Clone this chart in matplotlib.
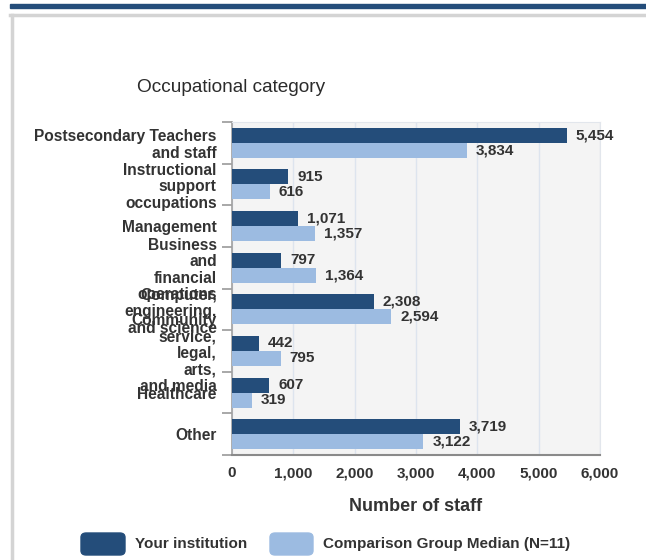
#!/usr/bin/env python3
"""
Staff by occupational category: institution vs comparison group median.
"""

import matplotlib
matplotlib.use("Agg")
import matplotlib.pyplot as plt
from matplotlib.patches import Rectangle, FancyBboxPatch
from matplotlib.lines import Line2D

plt.rcParams['font.family'] = ['Liberation Sans', 'DejaVu Sans']

CATEGORIES = [
    "Postsecondary Teachers\nand staff",
    "Instructional\nsupport\noccupations",
    "Management",
    "Business\nand\nfinancial\noperations",
    "Computer,\nengineering,\nand science",
    "Community\nservice,\nlegal,\narts,\nand media",
    "Healthcare",
    "Other",
]
YOUR_INSTITUTION = [5454, 915, 1071, 797, 2308, 442, 607, 3719]
COMPARISON_MEDIAN = [3834, 616, 1357, 1364, 2594, 795, 319, 3122]
X_TICKS = [0, 1000, 2000, 3000, 4000, 5000, 6000]

W, H = 646, 560
TEXT = '#333333'
DARK = '#244d7a'
LIGHT = '#9cbbe1'

fig = plt.figure(figsize=(W / 100, H / 100), dpi=100, facecolor='white')

# page decoration: dark band on top and light grey frame
fig.patches.append(Rectangle((10 / W, 1 - 8 / H), 1, 4 / H, transform=fig.transFigure,
                             color=DARK, zorder=0))
fig.lines.append(Line2D([11.5 / W, 11.5 / W], [0, 1 - 15 / H], transform=fig.transFigure,
                        color='#d4d4d4', linewidth=2.5))
fig.lines.append(Line2D([10 / W, 1], [1 - 15 / H, 1 - 15 / H], transform=fig.transFigure,
                        color='#d4d4d4', linewidth=2.5))

ax = fig.add_axes([232 / W, 1 - 455 / H, (600 - 232) / W, (455 - 122) / H])
ax.set_facecolor('#f4f4f4')

y = list(range(len(CATEGORIES)))
bh = 0.36
bars1 = ax.barh([v - bh / 2 for v in y], YOUR_INSTITUTION, height=bh, color=DARK,
                zorder=3, label="Your institution")
bars2 = ax.barh([v + bh / 2 for v in y], COMPARISON_MEDIAN, height=bh, color=LIGHT,
                zorder=3, label="Comparison Group Median (N=11)")

for bars in (bars1, bars2):
    ax.bar_label(bars, labels=[f'{v:,}' for v in bars.datavalues], padding=6.5,
                 fontsize=11, fontweight='bold', color=TEXT)

ax.set_ylim(len(CATEGORIES) - 0.5, -0.5)
ax.set_xlim(0, 6000)

ax.set_yticks(y)
ax.set_yticklabels(CATEGORIES, fontsize=11.2, fontweight='bold', color=TEXT, linespacing=1.13)
ax.set_yticks([v - 0.5 for v in range(len(CATEGORIES) + 1)], minor=True)
ax.tick_params(axis='y', which='major', length=0, pad=11)
ax.tick_params(axis='y', which='minor', length=7.5, width=1.2, color='#999999')

ax.set_xticks(X_TICKS)
ax.set_xticklabels([f'{v:,}' for v in X_TICKS], fontsize=11, fontweight='bold', color=TEXT)
ax.tick_params(axis='x', length=0, pad=8)
ax.grid(axis='x', color='#dde4ee', linewidth=1, zorder=0)

ax.set_xlabel("Number of staff", fontsize=13, fontweight='bold', color=TEXT, labelpad=13)

for side in ('top', 'right'):
    ax.spines[side].set_color('#e2e6ec')
ax.spines['left'].set_color('#a0a0a0')
ax.spines['left'].set_linewidth(1.2)
ax.spines['bottom'].set_color('#8a8a8a')
ax.spines['bottom'].set_linewidth(1.5)

fig.text(137 / W, 1 - 87 / H, "Occupational category", fontsize=13.7, color='#2b2b2b',
         ha='left', va='center')

# legend drawn by hand to get the rounded swatches
for x0, x1, color, label in [(81, 125, DARK, "Your institution"),
                             (270, 313, LIGHT, "Comparison Group Median (N=11)")]:
    fig.patches.append(FancyBboxPatch((x0 / W, 1 - 555 / H), (x1 - x0) / W, 22 / H,
                                      boxstyle="round,pad=0,rounding_size=0.008",
                                      transform=fig.transFigure, color=color))
    fig.text((x1 + 10) / W, 1 - 544 / H, label, fontsize=11, fontweight='bold',
             color=TEXT, ha='left', va='center')

fig.savefig("out.png", dpi=100, facecolor='white')
